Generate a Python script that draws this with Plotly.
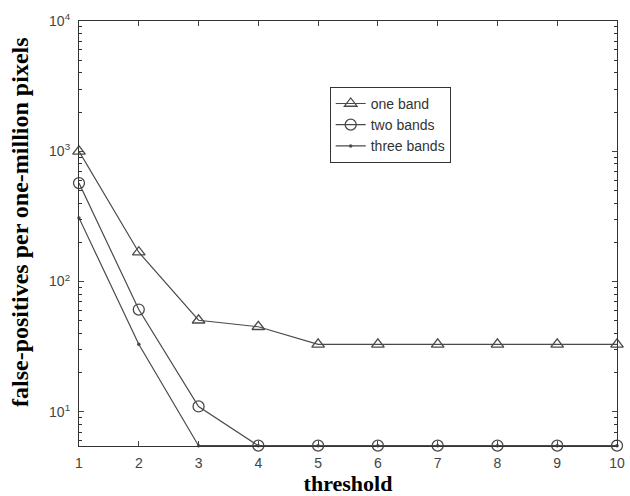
import plotly.graph_objects as go

thresholds = [1, 2, 3, 4, 5, 6, 7, 8, 9, 10]
one_band = [1000, 168, 50.5, 45, 33, 33, 33, 33, 33, 33]
two_bands = [570, 61, 11.0, 5.5, 5.5, 5.5, 5.5, 5.5, 5.5, 5.5]
three_bands = [308, 33, 5.5, 5.5, 5.5, 5.5, 5.5, 5.5, 5.5, 5.5]

y_tickvals = [10, 100, 1000, 10000]
y_ticktext = ["10<sup>1</sup>", "10<sup>2</sup>", "10<sup>3</sup>", "10<sup>4</sup>"]
y_minorvals = [m * d for d in (1, 10, 100, 1000) for m in range(2, 10)]
x_tickvals = thresholds

line_col = "#4a4a4a"

fig = go.Figure()
fig.add_trace(go.Scatter(x=thresholds, y=one_band, name="one band", mode="lines+markers",
                         line=dict(color=line_col, width=1.2),
                         marker=dict(symbol="triangle-up-open", size=11, color=line_col,
                                     line=dict(width=1.3, color=line_col)),
                         cliponaxis=False))
fig.add_trace(go.Scatter(x=thresholds, y=two_bands, name="two bands", mode="lines+markers",
                         line=dict(color=line_col, width=1.2),
                         marker=dict(symbol="circle-open", size=11, color=line_col,
                                     line=dict(width=1.3, color=line_col)),
                         cliponaxis=False))
fig.add_trace(go.Scatter(x=thresholds, y=three_bands, name="three bands", mode="lines+markers",
                         line=dict(color=line_col, width=1.2),
                         marker=dict(symbol="circle", size=3.5, color=line_col),
                         cliponaxis=False))

fig.update_layout(
    width=630, height=496,
    margin=dict(l=79, r=13, t=21, b=50),
    paper_bgcolor="white", plot_bgcolor="white",
    showlegend=True,
    legend=dict(x=0.466, y=0.845, xanchor="left", yanchor="top",
                bgcolor="white", bordercolor="#333333", borderwidth=1,
                font=dict(family="Liberation Sans, Arial", size=14, color="#333333"),
                itemwidth=30, tracegroupgap=0),
    font=dict(family="Liberation Sans, Arial", size=13, color="#333333"),
    annotations=[dict(text="<b>false-positives per one-million pixels</b>",
                      xref="paper", yref="paper", x=-0.1097, y=0.527,
                      xanchor="center", yanchor="middle", textangle=-90, showarrow=False,
                      font=dict(family="Liberation Serif, Times New Roman", size=24,
                                color="black"))],
)
fig.update_xaxes(
    range=[1, 10], tickvals=x_tickvals, ticks="inside", ticklen=5,
    showline=True, linecolor="#333333", linewidth=1.2, mirror="ticks",
    showgrid=False, zeroline=False, ticklabelstandoff=4, automargin=False,
    tickfont=dict(family="Liberation Sans, Arial", size=14, color="#444444"),
    title=dict(text="<b>threshold</b>", standoff=0,
               font=dict(family="Liberation Serif, Times New Roman", size=22, color="black")),
)
fig.update_yaxes(
    type="log", range=[0.738, 4], tickvals=y_tickvals, ticktext=y_ticktext,
    ticks="inside", ticklen=5, automargin=False,
    minor=dict(tickvals=y_minorvals, ticks="inside", ticklen=3, showgrid=False,
               tickcolor="#333333"),
    showline=True, linecolor="#333333", linewidth=1.2, mirror="ticks",
    showgrid=False, zeroline=False, ticklabelstandoff=5,
    tickfont=dict(family="Liberation Sans, Arial", size=14, color="#444444"),
)

fig.write_html("out.html")
